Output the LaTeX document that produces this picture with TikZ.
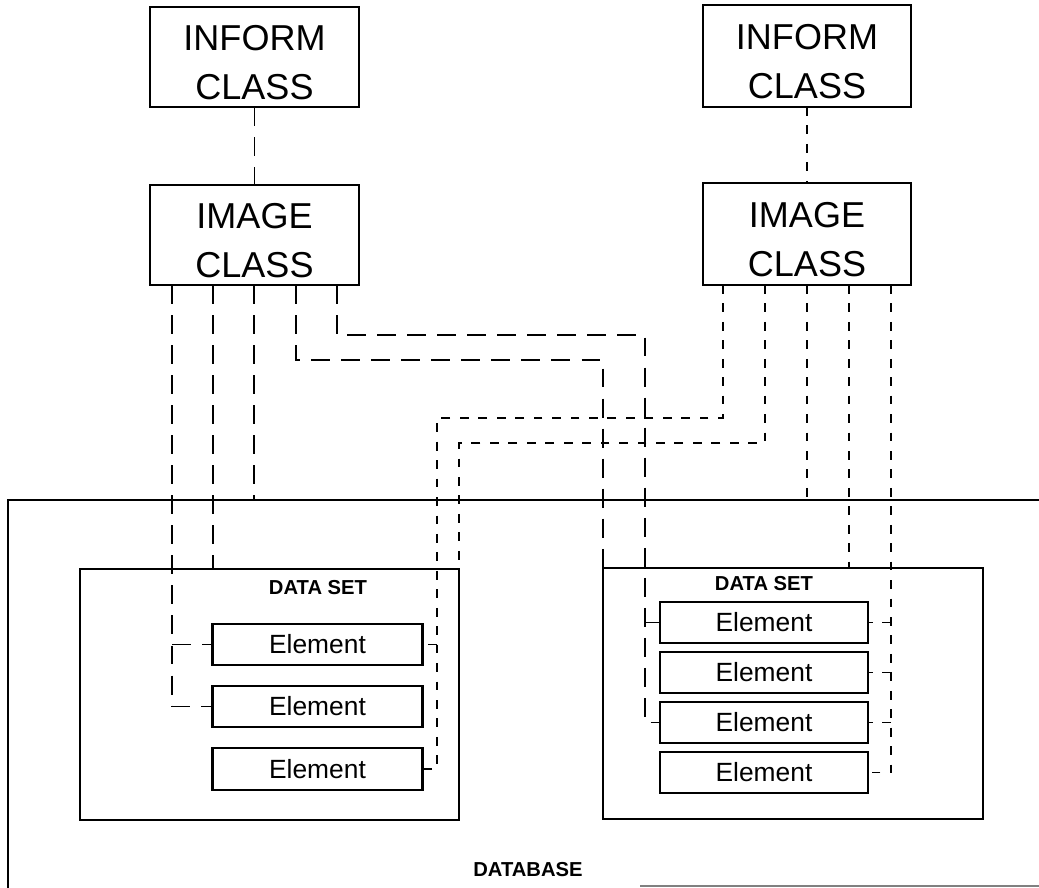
\documentclass[tikz,border=0pt]{standalone}
\usepackage{fontspec}
\setmainfont{Liberation Sans}
\newcommand{\boxstrut}{\rule{0pt}{20.5pt}}
\tikzset{
  classbox/.style={draw,line width=1.3pt,inner sep=0pt,outer sep=0pt,align=center,
    minimum width=4.18cm,minimum height=2cm,font=\fontsize{20.5}{28}\selectfont},
  setbox/.style={draw,line width=1.3pt,inner sep=0pt,outer sep=0pt,
    minimum width=7.58cm,minimum height=5.02cm},
  elembox/.style={draw,line width=1.2pt,inner sep=0pt,outer sep=0pt,
    minimum width=4.2cm,minimum height=0.83cm,font=\fontsize{15}{18}\selectfont},
  boldlabel/.style={inner sep=0pt,font=\fontsize{11.5}{14}\selectfont\bfseries},
  dashL/.style={line width=1.1pt,dash pattern=on 10.8pt off 6.3pt},
  dotR/.style={line width=1.1pt,dash pattern=on 5pt off 5.5pt},
}
\begin{document}
\begin{tikzpicture}[x=0.02cm,y=-0.02cm]
\useasboundingbox (0,0) rectangle (1039,888);
%class boxes
\node[classbox] (infL) at (254.5,57) {\boxstrut INFORM\\CLASS};
\node[classbox] (imgL) at (254.5,235) {\boxstrut IMAGE\\CLASS};
\node[classbox,minimum width=4.16cm,minimum height=2.04cm] (infR) at (807,56) {\boxstrut INFORM\\CLASS};
\node[classbox,minimum width=4.16cm,minimum height=2.04cm] (imgR) at (807,234) {\boxstrut IMAGE\\CLASS};
%database
\coordinate (dbtop) at (8,500);
\draw[line width=1.3pt] (8,888) -- (dbtop) -- (1039,500);
\draw[line width=0.6pt,gray] (640,886) -- (1039,886);
\node[boldlabel] (db) at (528,870) {DATABASE};
%data sets
\node[setbox] (dsL) at (269.5,694.5) {};
\node[setbox,minimum width=7.6cm] (dsR) at (793,693.5) {};
\node[boldlabel] (dsLlab) at (318,588) {DATA SET};
\node[boldlabel] (dsRlab) at (764,584) {DATA SET};
%elements
\node[elembox] (eL1) at (317.5,644.5) {Element};
\node[elembox] (eL2) at (317.5,706.5) {Element};
\node[elembox] (eL3) at (317.5,769) {Element};
\foreach \i/\y in {1/622.5,2/672.5,3/722.5,4/772.5}
  \node[elembox,minimum width=4.16cm,minimum height=0.82cm] (eR\i) at (764,\y) {Element};
%class links
\draw[dashL] (infL.south) -- (imgL.north);
\draw[dotR] (infR.south) -- (imgR.north);
%left image class links
\draw[dashL] (172,0 |- imgL.south) -- (172,0 |- eL2.west) -- (eL2.west);
\draw[dashL] (172,0 |- eL1.west) -- (eL1.west);
\draw[dashL] (213,0 |- imgL.south) -- (213,0 |- dsL.north);
\draw[dashL] (254,0 |- imgL.south) -- (254,0 |- dbtop);
\draw[dashL] (296,0 |- imgL.south) |- (dsR.north west |- 0,360) -- (dsR.north west);
\draw[dashL] (337,0 |- imgL.south) |- (645,335) -- (645,0 |- eR3.west) -- (eR3.west);
\draw[dashL] (645,0 |- eR1.west) -- (eR1.west);
%right image class links
\draw[dotR] (723,0 |- imgR.south) |- (437,418) -- (437,0 |- eL3.east) -- (eL3.east);
\draw[dotR] (437,0 |- eL1.east) -- (eL1.east);
\draw[dotR] (765,0 |- imgR.south) |- (dsL.north east |- 0,443) -- (dsL.north east);
\draw[dotR] (807,0 |- imgR.south) -- (807,0 |- dbtop);
\draw[dotR] (849,0 |- imgR.south) -- (849,0 |- dsR.north);
\draw[dotR] (891,0 |- imgR.south) -- (891,0 |- eR4.east) -- (eR4.east);
\foreach \e in {eR1,eR2,eR3}
  \draw[dotR] (891,0 |- \e.east) -- (\e.east);
\end{tikzpicture}
\end{document}
